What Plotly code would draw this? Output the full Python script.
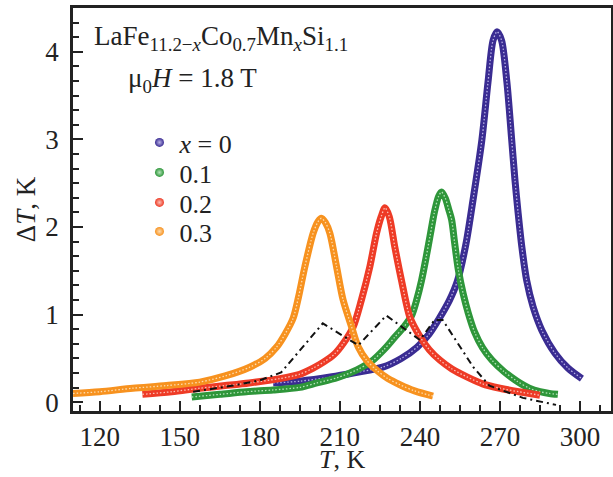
import plotly.graph_objects as go

# ---- data ----
labels = ["<i>x</i> = 0", "0.1", "0.2", "0.3"]
colors = ["#3a2c92", "#2e963a", "#ee3b26", "#f7921f"]
lights = ["#b9b2e6", "#b5e3ba", "#fbc0b6", "#fddcb0"]

T_x0 = [185, 195, 207, 216, 226, 233, 239, 243.5, 247.5, 251, 254, 257.2, 259.9, 263.2, 265.5,
        267.4, 268.9, 270.6, 272.6, 274.4, 275.6, 276.8, 278.2, 280, 282.4, 285.7, 290.6, 295.5, 300.7]
dT_x0 = [0.22, 0.24, 0.29, 0.34, 0.40, 0.50, 0.63, 0.78, 0.97, 1.16, 1.38, 1.80, 2.31, 2.99, 3.65,
         4.13, 4.23, 4.13, 3.65, 2.99, 2.54, 2.16, 1.77, 1.39, 1.09, 0.82, 0.56, 0.39, 0.27]

T_x1 = [154.5, 165, 175, 185, 195, 201.4, 209, 216.4, 222, 226.5, 230.5, 234, 236.9, 238.8, 240.6,
        242.3, 243.75, 245.5, 247, 248.1, 249.5, 250.8, 251.9, 253, 254.4, 256.2, 258.1, 260.5,
        263.5, 267, 271.5, 276.4, 281, 285, 288.5, 291.7]
dT_x1 = [0.06, 0.09, 0.12, 0.14, 0.17, 0.22, 0.28, 0.37, 0.47, 0.60, 0.74, 0.86, 0.99, 1.17, 1.39,
         1.65, 1.89, 2.18, 2.35, 2.40, 2.33, 2.20, 2.08, 1.82, 1.51, 1.24, 1.02, 0.80,
         0.62, 0.48, 0.35, 0.24, 0.16, 0.12, 0.10, 0.09]

T_x2 = [136, 147, 157.5, 167, 176, 187.5, 195, 200, 204, 208, 211.25, 215, 218.1, 221.25, 223.75,
        225.5, 226.9, 228.5, 230.6, 233.1, 236.25, 240, 243.5, 247.5, 252, 257.6, 263.5, 270, 277, 285]
dT_x2 = [0.09, 0.12, 0.16, 0.19, 0.22, 0.27, 0.32, 0.39, 0.46, 0.55, 0.67, 0.86, 1.17, 1.55, 1.93,
         2.12, 2.22, 2.12, 1.77, 1.39, 0.97, 0.75, 0.60, 0.48, 0.38, 0.29, 0.21, 0.16, 0.12, 0.08]

T_x3 = [110, 120, 132.4, 145, 157.5, 167, 176.2, 182, 186.3, 189.5, 192.5, 194.5, 196.9, 200, 201.8,
        203.1, 204.6, 206.25, 208.75, 211.2, 214.4, 216.9, 220, 224, 228, 232.5, 238, 244.9]
dT_x3 = [0.10, 0.12, 0.16, 0.19, 0.23, 0.30, 0.40, 0.50, 0.63, 0.78, 0.96, 1.20, 1.55, 1.93, 2.06,
         2.10, 2.05, 1.93, 1.55, 1.17, 0.86, 0.63, 0.48, 0.36, 0.27, 0.20, 0.13, 0.07]

T_dd = [155, 170, 180, 188, 203.6, 216.9, 227.4, 240, 245.5, 248.5, 260, 266, 278.6, 291]
dT_dd = [0.12, 0.19, 0.25, 0.34, 0.90, 0.65, 0.99, 0.71, 0.94, 0.94, 0.40, 0.19, 0.05, -0.03]

x_ticks = [120, 150, 180, 210, 240, 270, 300]
y_ticks = [0, 1, 2, 3, 4]

series_T = [T_x0, T_x1, T_x2, T_x3]
series_dT = [dT_x0, dT_x1, dT_x2, dT_x3]

FONT = "Liberation Serif"
fig = go.Figure()

for i in range(4):
    fig.add_trace(go.Scatter(x=series_T[i], y=series_dT[i], mode="lines",
                             line=dict(color=colors[i], width=7, shape="spline", smoothing=0.8),
                             showlegend=False, hoverinfo="skip"))
    fig.add_trace(go.Scatter(x=series_T[i], y=series_dT[i], mode="lines",
                             line=dict(color=lights[i], width=1.3, shape="spline", smoothing=0.8,
                                       dash="1.5px,2px"),
                             showlegend=False, hoverinfo="skip"))

fig.add_trace(go.Scatter(x=T_dd, y=dT_dd, mode="lines",
                         line=dict(color="#111111", width=2, dash="7px,4px,2px,4px"),
                         showlegend=False, hoverinfo="skip"))

# legend: one legend per entry so the rows sit where the reference puts them
legend_rows_px = [142.5, 172.5, 202.5, 231.5]
legend_names = ["legend", "legend2", "legend3", "legend4"]
for i in range(4):
    fig.add_trace(go.Scatter(x=[None], y=[None], mode="markers", name=labels[i],
                             legend=legend_names[i],
                             marker=dict(color=colors[i], size=9,
                                         gradient=dict(type="radial", color=lights[i]))))

layout_legends = {}
for i, ln in enumerate(legend_names):
    layout_legends[ln] = dict(x=(139.5 - 73) / 538, y=1 - (legend_rows_px[i] - 8) / 403,
                              xanchor="left", yanchor="middle", bgcolor="rgba(0,0,0,0)",
                              font=dict(family=FONT, size=26, color="#222"))

fig.update_layout(
    width=613, height=477,
    margin=dict(l=73, r=2, t=8, b=66),
    paper_bgcolor="white", plot_bgcolor="white",
    font=dict(family=FONT, size=27, color="#222"),
    showlegend=True,
    **layout_legends,
)
fig.add_annotation(x=(92 - 73) / 538, y=1 - (19 - 8) / 403, xref="paper", yref="paper",
                   xanchor="left", yanchor="top", showarrow=False,
                   text="LaFe<sub>11.2−<i>x</i></sub>Co<sub>0.7</sub>Mn<sub><i>x</i></sub>Si<sub>1.1</sub>",
                   font=dict(family=FONT, size=27, color="#222"))
fig.add_annotation(x=(126 - 73) / 538, y=1 - (61 - 8) / 403, xref="paper", yref="paper",
                   xanchor="left", yanchor="top", showarrow=False,
                   text="μ<sub>0</sub><i>H</i> = 1.8 T",
                   font=dict(family=FONT, size=27, color="#222"))
# x-axis title placed below the tick labels
fig.add_annotation(x=(342 - 73) / 538, y=-(460 - 411) / 403, xref="paper", yref="paper",
                   xanchor="center", yanchor="middle", showarrow=False, borderpad=0,
                   text="<i>T</i>, K", font=dict(family=FONT, size=26, color="#222"))

fig.update_xaxes(range=[110, 311.6], tickvals=x_ticks, ticks="inside", ticklen=10, tickwidth=1.5,
                 tickcolor="#222", showline=True, linewidth=2.5, linecolor="#222", mirror=True,
                 showgrid=False, zeroline=False, automargin=False,
                 minor=dict(dtick=7.5, tick0=120, ticks="inside", ticklen=6, tickwidth=1.5,
                            tickcolor="#222", showgrid=False),
                 tickfont=dict(family=FONT, size=27), ticklabelstandoff=0)
fig.update_yaxes(range=[-0.1, 4.5], tickvals=y_ticks, ticks="inside", ticklen=10, tickwidth=1.5,
                 tickcolor="#222", showline=True, linewidth=2.5, linecolor="#222", mirror=True,
                 showgrid=False, zeroline=False, automargin=False,
                 minor=dict(dtick=1 / 6, tick0=0, ticks="inside", ticklen=6, tickwidth=1.5,
                            tickcolor="#222", showgrid=False),
                 tickfont=dict(family=FONT, size=27), ticklabelstandoff=6,
                 title=dict(text="Δ<i>T</i>, K", font=dict(family=FONT, size=27), standoff=2))

fig.write_html("out.html")
